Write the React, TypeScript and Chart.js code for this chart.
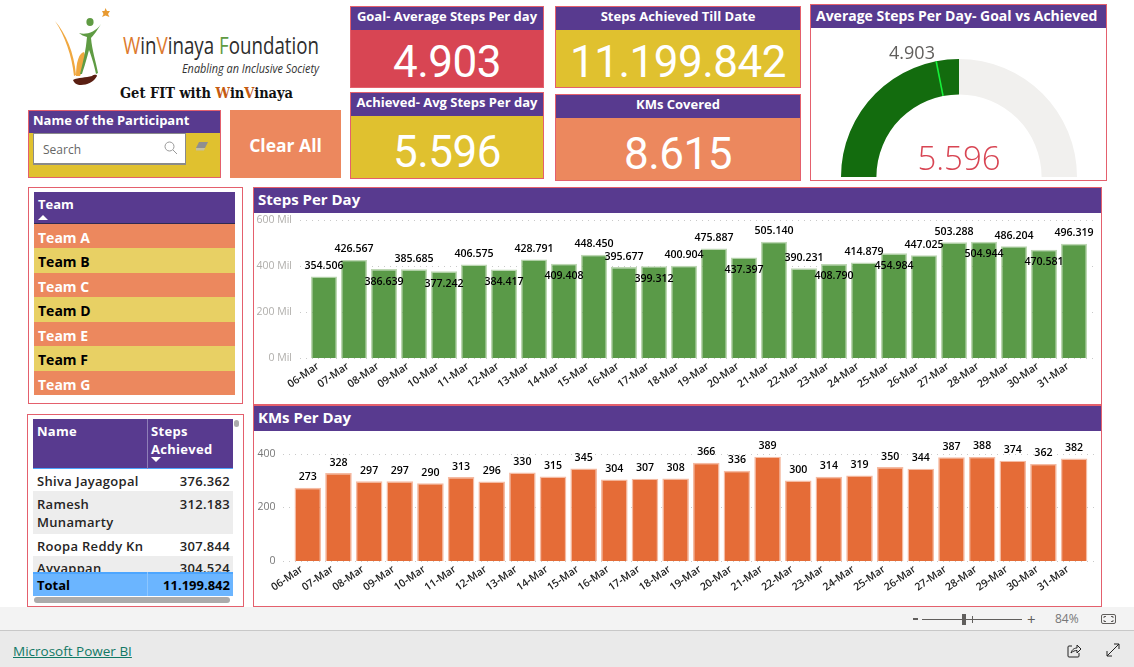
import React, { useEffect, useRef } from "react";
import { Chart, registerables } from "chart.js";

Chart.register(...registerables);

const days = ["06-Mar","07-Mar","08-Mar","09-Mar","10-Mar","11-Mar","12-Mar","13-Mar","14-Mar","15-Mar","16-Mar","17-Mar","18-Mar","19-Mar","20-Mar","21-Mar","22-Mar","23-Mar","24-Mar","25-Mar","26-Mar","27-Mar","28-Mar","29-Mar","30-Mar","31-Mar"];
const stepsPerDay = [354.506,426.567,386.639,385.685,377.242,406.575,384.417,428.791,409.408,448.45,395.677,399.312,400.904,475.887,437.397,505.14,390.231,408.79,414.879,454.984,447.025,503.288,504.944,486.204,470.581,496.319];
const kmsPerDay = [273,328,297,297,290,313,296,330,315,345,304,307,308,366,336,389,300,314,319,350,344,387,388,374,362,382];
const stepsLabelsInside = ["08-Mar","10-Mar","12-Mar","14-Mar","17-Mar","20-Mar","23-Mar","25-Mar","28-Mar","30-Mar"];
const goalValue = 4.903;
const achievedValue = 5.596;
const gaugeMax = 11.192;
const teams = ["Team A","Team B","Team C","Team D","Team E","Team F","Team G"];
const participants = ["Shiva Jayagopal","Ramesh Munamarty","Roopa Reddy Kn","Ayyappan"];
const participantSteps = ["376.362","312.183","307.844","304.524"];

const PURPLE = "#583A8F";
const BORDER = "#E4606D";
const ORANGE = "#EC885E";
const YELLOW = "#E0C12F";
const RED = "#D84553";
const UI = "'Open Sans', 'Noto Sans', sans-serif";
const NUM = "Roboto, 'Open Sans', sans-serif";

const abs = (left: number, top: number, width: number, height: number): React.CSSProperties => ({
  position: "absolute", left, top, width, height, boxSizing: "border-box",
});

function valueLabels(format: (v: number) => string, inside: string[]) {
  return {
    id: "valueLabels",
    afterDatasetsDraw(chart: any) {
      const { ctx } = chart;
      const meta = chart.getDatasetMeta(0);
      const values = chart.data.datasets[0].data as number[];
      ctx.save();
      ctx.font = `600 10.6px ${UI}`;
      ctx.fillStyle = "#000";
      ctx.textAlign = "center";
      ctx.textBaseline = "middle";
      meta.data.forEach((bar: any, i: number) => {
        const isInside = inside.includes(chart.data.labels[i]);
        ctx.fillText(format(values[i]), bar.x, bar.y + (isInside ? 12.5 : -10.5));
      });
      ctx.restore();
    },
  };
}

function dottedGrid(extraLeft: number, extraRight: number) {
  return {
    id: "dottedGrid",
    beforeDatasetsDraw(chart: any) {
      const { ctx, chartArea } = chart;
      const y = chart.scales.y;
      ctx.save();
      ctx.strokeStyle = "#c9c9c9";
      ctx.lineWidth = 1;
      ctx.setLineDash([1, 5]);
      y.ticks.forEach((t: any) => {
        const py = Math.round(y.getPixelForValue(t.value)) + 0.5;
        ctx.beginPath();
        ctx.moveTo(chartArea.left - extraLeft, py);
        ctx.lineTo(chartArea.right + extraRight, py);
        ctx.stroke();
      });
      ctx.restore();
    },
  };
}

interface BarProps {
  left: number; top: number; width: number; height: number;
  values: number[]; color: string; edge: string;
  max: number; stepSize: number; suffix: string; tickColor: string;
  axisWidth: number; rightPad: number; topPad: number; xHeight: number; tickPad: number;
  decimals: number; inside: string[]; gridLeft: number; labelOffset: number; xPad: number;
}

function BarPanel(p: BarProps) {
  const ref = useRef<HTMLCanvasElement>(null);
  useEffect(() => {
    const chart = new Chart(ref.current!, {
      type: "bar",
      data: {
        labels: days,
        datasets: [{
          data: p.values, backgroundColor: p.color, borderColor: p.edge, borderWidth: 1.4,
          barPercentage: 0.868, categoryPercentage: 1,
        }],
      },
      options: {
        animation: false, responsive: false,
        layout: { padding: { left: 0, right: p.rightPad, top: p.topPad, bottom: 0 } },
        plugins: { legend: { display: false }, tooltip: { enabled: false } },
        scales: {
          x: {
            grid: { display: false, drawTicks: false }, border: { display: false },
            afterFit: (s: any) => { s.height = p.xHeight; },
            ticks: {
              autoSkip: false, minRotation: 35, maxRotation: 35, padding: p.xPad, labelOffset: p.labelOffset,
              color: "#222", font: { family: UI, size: 10.5, weight: 600 },
            },
          },
          y: {
            min: 0, max: p.max,
            grid: { display: false, drawTicks: false }, border: { display: false },
            afterFit: (s: any) => { s.width = p.axisWidth; s.paddingTop = 0; s.paddingBottom = 0; },
            ticks: {
              stepSize: p.stepSize, padding: p.tickPad, color: p.tickColor,
              font: { family: UI, size: 10.5 },
              callback: (v: any) => `${v}${p.suffix}`,
            },
          },
        },
      },
      plugins: [dottedGrid(p.gridLeft, 6), valueLabels((v) => v.toFixed(p.decimals), p.inside)],
    } as any);
    return () => chart.destroy();
  }, []);
  return <canvas ref={ref} width={p.width} height={p.height} style={{ ...abs(p.left, p.top, p.width, p.height), display: "block" }} />;
}

function Gauge() {
  const ref = useRef<HTMLCanvasElement>(null);
  useEffect(() => {
    const goalNeedle = {
      id: "goalNeedle",
      afterDatasetsDraw(chart: any) {
        const arc = chart.getDatasetMeta(0).data[0];
        const a = Math.PI + (goalValue / gaugeMax) * Math.PI;
        const { ctx } = chart;
        ctx.save();
        ctx.strokeStyle = "#16F03A";
        ctx.lineWidth = 1.6;
        ctx.beginPath();
        ctx.moveTo(arc.x + Math.cos(a) * arc.innerRadius, arc.y + Math.sin(a) * arc.innerRadius);
        ctx.lineTo(arc.x + Math.cos(a) * arc.outerRadius, arc.y + Math.sin(a) * arc.outerRadius);
        ctx.stroke();
        ctx.restore();
      },
    };
    const chart = new Chart(ref.current!, {
      type: "doughnut",
      data: {
        datasets: [{
          data: [achievedValue, gaugeMax - achievedValue],
          backgroundColor: ["#136C0E", "#F1F0EE"], borderWidth: 0,
        }],
      },
      options: {
        animation: false, responsive: false, rotation: -90, circumference: 180, cutout: "70%",
        plugins: { legend: { display: false }, tooltip: { enabled: false } },
      },
      plugins: [goalNeedle],
    } as any);
    return () => chart.destroy();
  }, []);
  return <canvas ref={ref} width={236} height={118} style={{ ...abs(841, 59, 236, 118), display: "block" }} />;
}

function Kpi(props: { left: number; top: number; width: number; height: number; head: number; title: string; value: string; bg: string; valueTop: number; spacing: number; size: number; dx?: number }) {
  const { left, top, width, height, head, title, value, bg, valueTop, spacing, size, dx = 0 } = props;
  return (
    <div style={{ ...abs(left, top, width, height), border: `1px solid ${BORDER}`, background: bg }}>
      <div style={{ height: head, background: PURPLE, color: "#fff", font: `700 13px ${UI}`, lineHeight: `${head - 4}px`, textAlign: "center", whiteSpace: "nowrap" }}>{title}</div>
      <div style={{ position: "absolute", left: dx, right: 0, top: valueTop, textAlign: "center", color: "#fff", font: `400 ${size}px ${NUM}`, lineHeight: "46px", letterSpacing: spacing, whiteSpace: "nowrap" }}>{value}</div>
    </div>
  );
}

function Logo() {
  return (
    <svg style={{ ...abs(0, 0, 350, 108) }} viewBox="0 0 350 108">
      <path d="M55 21 C66 34 74 52 76 75 L74 76 C72 56 65 36 55 21 Z" fill="#F0A840" />
      <path d="M76 76 C76 62 79 53 84 52 C87 58 84 68 80 76 Z" fill="#F0A840" />
      <path d="M79 33 C85 35 95 33 101 24 C97 31 93 36 91 38 C92 50 96 62 98 73 L96 74 C94 64 91 55 89 50 C87 58 84 68 82 74 L80 74 C83 62 86 50 87 37 C84 36 81 35 79 33 Z" fill="#5F9B43" />
      <ellipse cx="90" cy="22" rx="3.6" ry="4" fill="#5F9B43" />
      <polygon points="105.5,8 107,11 110,11 108,14 109.5,17 105.5,15.5 102,17 103.5,14 102,11 104.5,11" fill="#E89A30" />
      <path d="M73 80 C78 77 86 78 92 76 C95 74 97 75 97 76 C94 82 87 85 81 85 C77 85 74 83 73 80 Z" fill="#5A1F12" />
      <text x="123" y="54" textLength="196" lengthAdjust="spacingAndGlyphs" style={{ font: "400 23px 'Liberation Sans Narrow', 'Open Sans', sans-serif" }} fill="#2d2d2d">
        <tspan fill="#DD7A2E">W</tspan>in<tspan fill="#DD7A2E">V</tspan>inaya <tspan fill="#5F9B43">F</tspan>oundation
      </text>
      <text x="182" y="73" textLength="137" lengthAdjust="spacingAndGlyphs" style={{ font: "italic 400 13.5px 'Liberation Sans Narrow', 'Open Sans', sans-serif" }} fill="#333">Enabling an Inclusive Society</text>
      <text x="120" y="98" textLength="173" lengthAdjust="spacingAndGlyphs" style={{ font: "700 14px 'DejaVu Serif', serif" }} fill="#111">
        Get FIT with <tspan fill="#C55A11">W</tspan>in<tspan fill="#C55A11">V</tspan>inaya
      </text>
    </svg>
  );
}

export default function App() {
  const rowBounds = [224, 248, 273, 297, 322, 346, 371, 395];
  const tableText: React.CSSProperties = { position: "absolute", font: `600 13px ${UI}`, lineHeight: "18px", color: "#252423", letterSpacing: 0.3 };
  return (
    <div style={{ position: "fixed", left: 0, top: 0, width: 1134, height: 667, background: "#fff", overflow: "hidden", fontFamily: UI }}>
      <Logo />

      <div style={{ ...abs(28, 110, 193, 68), border: `1px solid ${BORDER}`, background: YELLOW }}>
        <div style={{ height: 22, background: PURPLE, color: "#fff", font: `700 13px ${UI}`, lineHeight: "19px", paddingLeft: 4 }}>Name of the Participant</div>
        <div style={{ ...abs(4, 22, 153, 32), background: "#fff", border: "1px solid #8a8a8a", borderBottomWidth: 2, color: "#666", font: `400 12px ${UI}`, lineHeight: "32px", paddingLeft: 9 }}>Search</div>
        <svg style={{ ...abs(134, 29, 16, 16) }} viewBox="0 0 16 16"><circle cx="6.5" cy="6.5" r="4.5" fill="none" stroke="#999" strokeWidth="1" /><path d="M10 10 L14 14" stroke="#999" strokeWidth="1" /></svg>
        <svg style={{ ...abs(166, 30, 14, 12) }} viewBox="0 0 14 12"><path d="M4 1 H13 L10 7 H1 Z" fill="#8f8f8f" /><path d="M1 7 H10 L9 9.5 H1 Z" fill="#c4c0a0" /></svg>
      </div>
      <div style={{ ...abs(230, 110, 111, 68), background: ORANGE, color: "#fff", font: `700 17.5px ${UI}`, lineHeight: "70px", textAlign: "center" }}>Clear All</div>

      <Kpi left={350} top={6} width={194} height={82} head={23} title="Goal- Average Steps Per day" value="4.903" bg={RED} valueTop={32} spacing={-0.5} size={44} />
      <Kpi left={350} top={92} width={194} height={87} head={23} title="Achieved- Avg Steps Per day" value="5.596" bg={YELLOW} valueTop={36} spacing={-0.5} size={44} />
      <Kpi left={555} top={6} width={246} height={82} head={23} title="Steps Achieved Till Date" value="11.199.842" bg={YELLOW} valueTop={32} spacing={-0.5} size={44} />
      <Kpi left={555} top={94} width={246} height={87} head={23} title="KMs Covered" value="8.615" bg={ORANGE} valueTop={36} spacing={-0.5} size={44} />

      <div style={{ ...abs(810, 4, 297, 177), border: `1px solid ${BORDER}` }}>
        <div style={{ height: 23, background: PURPLE, color: "#fff", font: `700 14px ${UI}`, lineHeight: "21px", paddingLeft: 5, whiteSpace: "nowrap" }}>Average Steps Per Day- Goal vs Achieved</div>
      </div>
      <Gauge />
      <div style={{ position: "absolute", left: 872, top: 38, width: 80, textAlign: "center", color: "#605E5C", font: `400 18px ${UI}`, lineHeight: "28px" }}>{goalValue.toFixed(3)}</div>
      <div style={{ position: "absolute", left: 899, top: 133, width: 120, textAlign: "center", color: RED, font: `300 33px ${UI}`, lineHeight: "50px" }}>{achievedValue.toFixed(3)}</div>

      <div style={{ ...abs(28, 187, 215, 217), border: `1px solid ${BORDER}` }} />
      <div style={{ ...abs(34, 192, 201, 32), background: PURPLE, borderBottom: "1px solid #2f2a50", color: "#fff", font: `700 13px ${UI}`, lineHeight: "24px", paddingLeft: 4 }}>
        Team
        <svg style={{ ...abs(4, 22, 10, 6) }} viewBox="0 0 10 6"><polygon points="0,6 5,1 10,6" fill="#fff" /></svg>
      </div>
      {teams.map((t, i) => (
        <div key={t} style={{ ...abs(34, rowBounds[i], 201, rowBounds[i + 1] - rowBounds[i]), background: i % 2 ? "#E8D064" : ORANGE, color: i % 2 ? "#000" : "#fff", font: `700 14px ${UI}`, lineHeight: "28px", paddingLeft: 4 }}>{t}</div>
      ))}

      <div style={{ ...abs(27, 414, 217, 193), border: `1px solid ${BORDER}` }} />
      <div style={{ ...abs(33, 419, 200, 50), background: PURPLE, borderBottom: "1px solid #4DA6FF" }} />
      <div style={{ ...abs(147, 419, 1, 50), background: "#8f7fb8" }} />
      <div style={{ ...tableText, left: 37, top: 422, color: "#fff", fontWeight: 700 }}>Name</div>
      <div style={{ ...tableText, left: 151, top: 422, color: "#fff", fontWeight: 700 }}>Steps<br />Achieved</div>
      <svg style={{ ...abs(151, 457, 10, 6) }} viewBox="0 0 10 6"><polygon points="0,0 5,5 10,0" fill="#fff" /></svg>
      <div style={{ ...abs(33, 491, 200, 43), background: "#EDEDED" }} />
      <div style={{ ...abs(33, 556, 200, 17), background: "#EDEDED" }} />
      <div style={{ ...abs(33, 469, 200, 104), overflow: "hidden" }}>
        {participants.map((name, i) => {
          const tops = [3, 26, 68, 90];
          return (
            <React.Fragment key={name}>
              <div style={{ ...tableText, left: 4, top: tops[i], width: 110 }}>{name}</div>
              <div style={{ ...tableText, right: 3, top: tops[i], textAlign: "right" }}>{participantSteps[i]}</div>
            </React.Fragment>
          );
        })}
      </div>
      <div style={{ ...abs(33, 572, 200, 24), background: "#6BB5FF", borderTop: "2px solid #4DA6FF" }} />
      <div style={{ ...abs(147, 572, 1, 24), background: "#8cc6ff" }} />
      <div style={{ ...tableText, left: 37, top: 576, color: "#000", fontWeight: 700, letterSpacing: 0 }}>Total</div>
      <div style={{ ...tableText, right: 1134 - 230, top: 576, color: "#000", fontWeight: 700, letterSpacing: 0 }}>11.199.842</div>
      <div style={{ ...abs(34, 597, 196, 6), background: "#ABABAB", borderRadius: 3 }} />
      <div style={{ ...abs(234, 420, 5, 7), background: "#ABABAB", borderRadius: 3 }} />

      <div style={{ ...abs(253, 187, 849, 218), border: `1px solid ${BORDER}` }}>
        <div style={{ height: 25, background: PURPLE, color: "#fff", font: `700 15px ${UI}`, lineHeight: "23px", paddingLeft: 4 }}>Steps Per Day</div>
      </div>
      <BarPanel left={254} top={214} width={847} height={189} values={stepsPerDay} color="#5A9A48" edge="#BDD7B3"
        max={600} stepSize={200} suffix=" Mil" tickColor="#B0AEAB" axisWidth={55} rightPad={12} topPad={6} xHeight={45}
        tickPad={17} decimals={3} inside={stepsLabelsInside} gridLeft={9} labelOffset={-6} xPad={2} />

      <div style={{ ...abs(253, 405, 849, 202), border: `1px solid ${BORDER}` }}>
        <div style={{ height: 25, background: PURPLE, color: "#fff", font: `700 15px ${UI}`, lineHeight: "23px", paddingLeft: 4 }}>KMs Per Day</div>
      </div>
      <BarPanel left={254} top={432} width={847} height={174} values={kmsPerDay} color="#E56C37" edge="#F5BBA3"
        max={400} stepSize={200} suffix="" tickColor="#777" axisWidth={38.5} rightPad={11.6} topPad={21.7} xHeight={45}
        tickPad={17} decimals={0} inside={[]} gridLeft={9.5} labelOffset={-6} xPad={2} />

      <div style={{ ...abs(0, 607, 1134, 24), background: "#F3F3F3", borderBottom: "1px solid #C8C8C8" }} />
      <div style={{ ...abs(0, 631, 1134, 36), background: "#EAEAEA" }} />
      <div style={{ ...abs(913, 618, 5, 2), background: "#605E5C" }} />
      <div style={{ ...abs(922, 619, 100, 1), background: "#605E5C" }} />
      <div style={{ ...abs(972, 616, 1, 7), background: "#605E5C" }} />
      <div style={{ ...abs(962, 614, 4, 11), background: "#605E5C" }} />
      <div style={{ position: "absolute", left: 1027, top: 609, color: "#605E5C", font: `400 15px ${UI}`, lineHeight: "20px" }}>+</div>
      <div style={{ position: "absolute", left: 1055, top: 610, color: "#777", font: `400 12px ${UI}`, lineHeight: "18px" }}>84%</div>
      <svg style={{ ...abs(1101, 612, 15, 14) }} viewBox="0 0 15 14"><rect x="0.5" y="2.5" width="14" height="9" rx="1.5" fill="none" stroke="#605E5C" /><path d="M3 6 V4.5 H5 M10 4.5 H12 V6 M3 8 V9.5 H5 M10 9.5 H12 V8" fill="none" stroke="#605E5C" /></svg>
      <a href="#" style={{ position: "absolute", left: 13, top: 641, color: "#117865", font: `400 13.5px ${UI}`, lineHeight: "20px", textDecoration: "underline" }}>Microsoft Power BI</a>
      <svg style={{ ...abs(1067, 643, 15, 15) }} viewBox="0 0 15 15"><path d="M5 3 H2 Q1 3 1 4 V13 Q1 14 2 14 H11 Q12 14 12 13 V10" fill="none" stroke="#222" /><path d="M4 10 C5 6 8 5 10 5 V2 L14 6 L10 10 V7.5 C8 7.5 6 8 4 10 Z" fill="none" stroke="#222" /></svg>
      <svg style={{ ...abs(1106, 643, 14, 14) }} viewBox="0 0 14 14"><path d="M1 13 L13 1 M8 1 H13 V6 M1 8 V13 H6" fill="none" stroke="#222" /></svg>
    </div>
  );
}
